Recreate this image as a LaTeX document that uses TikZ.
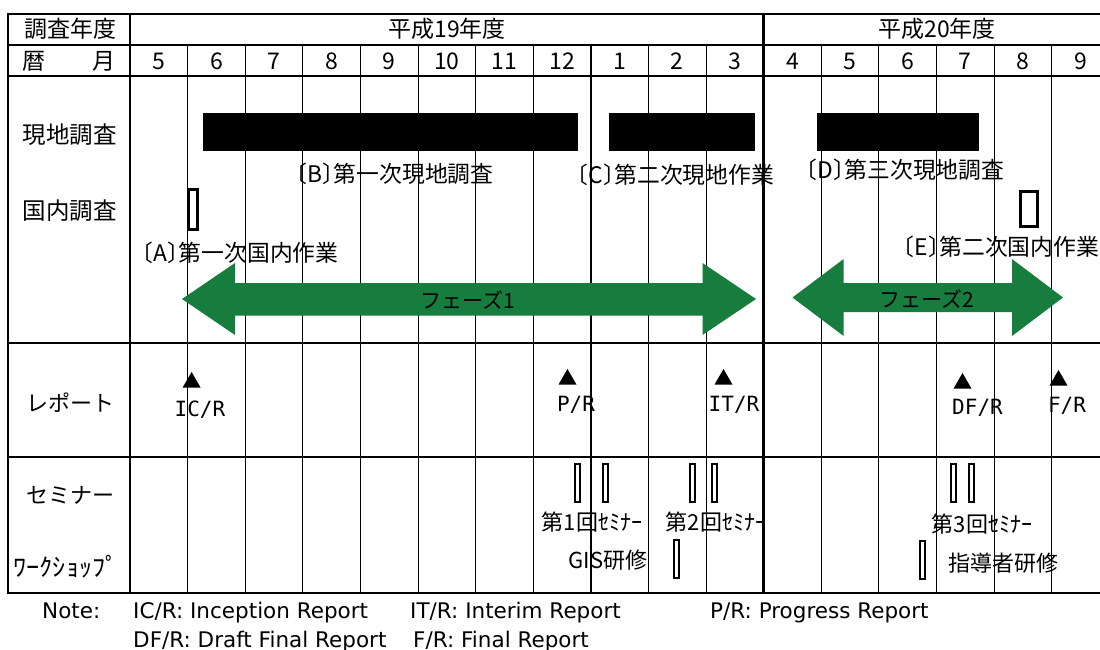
\documentclass[tikz,border=0pt]{standalone}
\usepackage{fontspec}
\setmainfont{Noto Sans CJK JP}
\newfontfamily\latinfont{DejaVu Sans}
\newfontfamily\monofont{DejaVu Sans Mono}
\newcommand\halfbr[1]{{\addfontfeature{RawFeature=+halt}#1}}
\usetikzlibrary{shapes.geometric}
\definecolor{phasegreen}{RGB}{23,125,62}
\begin{document}
\begin{tikzpicture}[x=1pt,y=-1pt,
  gridthin/.style={line width=0.9pt},
  gridthick/.style={line width=2.6pt, line cap=rect},
  hdr/.style={inner sep=0pt, font=\fontsize{23}{26}\selectfont},
  rowlabel/.style={inner sep=0pt, font=\fontsize{23.5}{26}\selectfont},
  rowlabelsmall/.style={inner sep=0pt, font=\fontsize{22}{26}\selectfont},
  tasklabel/.style={inner sep=0pt, anchor=west, font=\fontsize{22.8}{24}\selectfont},
  evlabel/.style={inner sep=0pt, font=\fontsize{22}{26}\selectfont},
  replabel/.style={inner sep=0pt, font=\monofont\fontsize{21}{24}\selectfont},
  notetext/.style={inner sep=0pt, anchor=base west, font=\latinfont\fontsize{21.5}{24}\selectfont},
  fieldbar/.style={fill=black, inner sep=0pt, minimum height=38pt},
  slot/.style={draw=black, fill=white, inner sep=0pt, line width=2pt, minimum width=5pt, minimum height=38pt},
  domslot/.style={draw=black, fill=white, inner sep=0pt, line width=3pt},
  marker/.style={regular polygon, regular polygon sides=3, fill=black, inner sep=0pt, minimum size=20.8pt},
  phasearrow/.style={fill=phasegreen},
  phasetext/.style={inner sep=0pt, font=\fontsize{21}{24}\selectfont}]

\useasboundingbox (0,0) rectangle (1100,650);
\clip (0,0) rectangle (1100,650);
\fill[white] (0,0) rectangle (1100,650);

% grid: thin month lines
\foreach \k in {1,2,3,4,5,6,7,9,10,12,13,14,15,16}
  \draw[gridthin] ({130+57.6*\k},45) -- ({130+57.6*\k},593);
% thick lines
\foreach \yy in {14,45,76,343,457,593}
  \draw[gridthick] (8,\yy) -- (1112,\yy);
\draw[gridthick] (8,14) -- (8,593);
\draw[gridthick] (130,14) -- (130,593);
\draw[gridthick] (763.6,14) -- (763.6,593);
\draw[gridthick] (590.8,45) -- (590.8,593);

% header texts
\node[hdr] (hyear) at (70,29) {調査年度};
\node[hdr] (hmonth) at (69,61) {暦　　月};
\node[hdr] (y19) at (447,29) {平成19年度};
\node[hdr] (y20) at (937,29) {平成20年度};
\foreach \m [count=\i from 0] in {5,6,7,8,9,10,11,12,1,2,3,4,5,6,7,8,9}
  \node[hdr] (m\i) at ({130+57.6*(\i+0.5)},61.5) {\m};

% row labels
\node[rowlabel] (lfield) at (70,135) {現地調査};
\node[rowlabel] (ldom) at (70,211) {国内調査};
\node[rowlabelsmall] (lrep) at (70,403) {レポート};
\node[rowlabelsmall] (lsem) at (71,495) {セミナー};
\node[inner sep=0pt, font=\fontsize{25}{28}\selectfont] (lws) at (66,567) {\scalebox{1.05}[1]{ﾜｰｸｼｮｯﾌﾟ}};

% field survey bars
\node[fieldbar, minimum width=375pt] (barB) at (390.5,132) {};
\node[fieldbar, minimum width=146pt] (barC) at (682,132) {};
\node[fieldbar, minimum width=162pt] (barD) at (898,132) {};

% domestic work slots
\node[domslot, minimum width=9pt, minimum height=40pt] (slotA) at (193,209.5) {};
\node[domslot, minimum width=17pt, minimum height=35pt] (slotE) at (1028.5,209) {};

% task labels
\node[tasklabel] (tA) at (142,253) {\halfbr{〔}A\halfbr{〕}第一次国内作業};
\node[tasklabel] (tB) at (296,174) {\halfbr{〔}B\halfbr{〕}第一次現地調査};
\node[tasklabel] (tC) at (577,175) {\halfbr{〔}C\halfbr{〕}第二次現地作業};
\node[tasklabel] (tD) at (806,170) {\halfbr{〔}D\halfbr{〕}第三次現地調査};
\node[tasklabel] (tE) at (903,247) {\halfbr{〔}E\halfbr{〕}第二次国内作業};

% phase arrows
\fill[phasearrow] (182,299) -- (235,263) -- (235,283) -- (702.5,283) -- (702.5,263)
  -- (756,299) -- (702.5,335) -- (702.5,315.5) -- (235,315.5) -- (235,335) -- cycle;
\fill[phasearrow] (792.5,297.5) -- (843.6,259) -- (843.6,283) -- (1012,283) -- (1012,259)
  -- (1063,297.5) -- (1012,336) -- (1012,312) -- (843.6,312) -- (843.6,336) -- cycle;
\node[phasetext] (ph1) at (468,300) {フェーズ1};
\node[phasetext] (ph2) at (927,299) {フェーズ2};

% reports
\node[marker] (rIC) at (191.6,382.4) {};
\node[marker] (rP) at (567.5,379.4) {};
\node[marker] (rIT) at (723.5,379.4) {};
\node[marker] (rDF) at (962.5,383.4) {};
\node[marker] (rF) at (1058.5,380.4) {};
\node[replabel] (lIC) at (200,410) {IC/R};
\node[replabel] (lP) at (576,405) {P/R};
\node[replabel] (lIT) at (734,405) {IT/R};
\node[replabel] (lDF) at (977.5,408) {DF/R};
\node[replabel] (lF) at (1067,406) {F/R};

% seminars and workshops
\node[slot] (s1a) at (577.5,483) {};
\node[slot] (s1b) at (605,483) {};
\node[slot] (s2a) at (692.5,483) {};
\node[slot] (s2b) at (714,483) {};
\node[slot] (s3a) at (953,483) {};
\node[slot] (s3b) at (971,483) {};
\node[slot] (wGIS) at (676,559) {};
\node[slot] (wLead) at (922.5,559.5) {};
\node[evlabel] (e1) at (592,522) {第1回ｾﾐﾅｰ};
\node[evlabel] (e2) at (716,522) {第2回ｾﾐﾅｰ};
\node[evlabel] (e3) at (982,524) {第3回ｾﾐﾅｰ};
\node[evlabel] (eGIS) at (608,560) {GIS研修};
\node[evlabel] (eLead) at (1003.5,563) {指導者研修};

% notes
\node[notetext] (n0) at (42,618) {Note:};
\node[notetext] (n1) at (133,618) {IC/R: Inception Report};
\node[notetext] (n2) at (410,618) {IT/R: Interim Report};
\node[notetext] (n3) at (710,618) {P/R: Progress Report};
\node[notetext] (n4) at (133,647) {DF/R: Draft Final Report};
\node[notetext] (n5) at (413,647) {F/R: Final Report};
\end{tikzpicture}
\end{document}
